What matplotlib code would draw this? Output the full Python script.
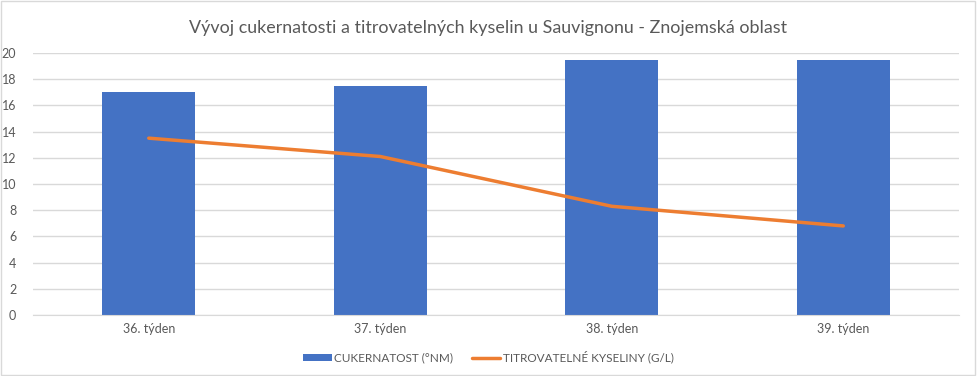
import matplotlib.pyplot as plt
from matplotlib.patches import Rectangle

plt.rcParams['font.family'] = ['Lato', 'DejaVu Sans']

tydny = ['36. týden', '37. týden', '38. týden', '39. týden']
cukernatost = [17.0, 17.5, 19.5, 19.5]
kyseliny = [13.5, 12.1, 8.3, 6.8]

modra = '#4472c4'
oranzova = '#ed7d31'
seda = '#595959'

fig = plt.figure(figsize=(9.77, 3.76), dpi=100)
ax = fig.add_axes([0.0338, 0.1622, 0.9478, 0.6968])

x = range(len(tydny))
sloupce = ax.bar(x, cukernatost, width=0.4, color=modra, label='CUKERNATOST (°NM)', zorder=2)
cara, = ax.plot(x, kyseliny, color=oranzova, linewidth=2.5, label='TITROVATELNÉ KYSELINY (G/L)',
                solid_capstyle='round', zorder=3)

ax.set_xlim(-0.5, len(tydny) - 0.5)
ax.set_ylim(0, 20)
ax.set_yticks(range(0, 21, 2))
ax.set_xticks(list(x))
ax.set_xticklabels(tydny)
ax.grid(axis='y', color='#d9d9d9', linewidth=1, zorder=0)
for s in ['top', 'right', 'left']:
    ax.spines[s].set_visible(False)
ax.spines['bottom'].set_color('#d9d9d9')
ax.tick_params(axis='both', length=0, colors=seda, labelsize=9)
ax.tick_params(axis='y', pad=12)
ax.tick_params(axis='x', pad=6)

fig.text(0.5, 0.925, 'Vývoj cukernatosti a titrovatelných kyselin u Sauvignonu - Znojemská oblast',
         ha='center', va='center', fontsize=12.9, color=seda)

leg = fig.legend([sloupce, cara], [sloupce.get_label(), cara.get_label()],
                 loc='center', bbox_to_anchor=(0.5, 0.05), ncol=2, frameon=False,
                 fontsize=8.5, labelcolor=seda, handlelength=2.4, handleheight=0.5,
                 handletextpad=0.2, columnspacing=1.6)

fig.add_artist(Rectangle((0.001, 0.002), 0.997, 0.995, transform=fig.transFigure,
                         fill=False, edgecolor='#d9d9d9', linewidth=1))

fig.savefig('out.png', dpi=100)
